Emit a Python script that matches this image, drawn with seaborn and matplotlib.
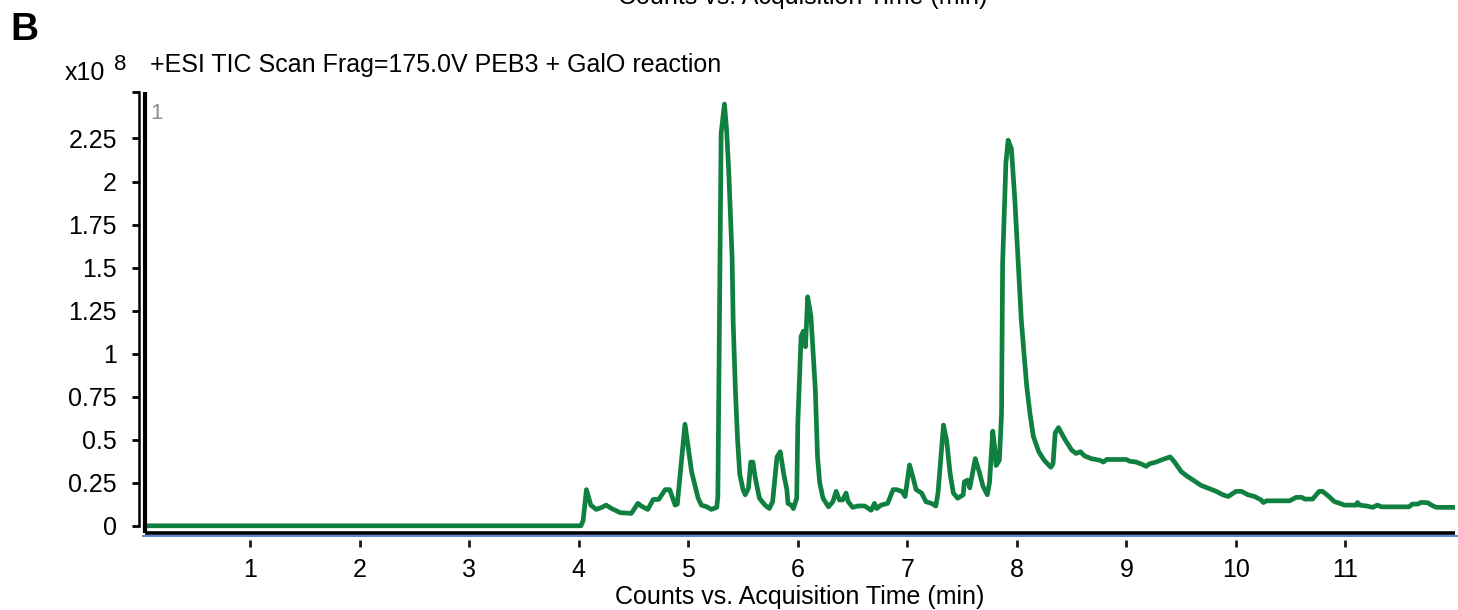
import matplotlib
matplotlib.use("Agg")
import matplotlib.pyplot as plt
import matplotlib.transforms as mtransforms
import seaborn as sns

sns.set_theme(style="white")
plt.rcParams["font.family"] = ["Liberation Sans", "DejaVu Sans"]
plt.rcParams["text.color"] = "black"
plt.rcParams["axes.labelcolor"] = "black"

# TIC trace (time in min, counts in units of 1e8)
time_min = [
    0.04, 4.02, 4.04, 4.07, 4.11, 4.16, 4.21, 4.25, 4.30, 4.38, 4.48, 4.54, 4.57,
    4.63, 4.68, 4.73, 4.79, 4.83, 4.88, 4.90, 4.97, 5.03, 5.09, 5.12, 5.17, 5.21,
    5.26, 5.27, 5.30, 5.33, 5.35, 5.37, 5.40, 5.41, 5.43, 5.45, 5.47, 5.50, 5.52,
    5.55, 5.57, 5.59, 5.61, 5.63, 5.65, 5.70, 5.74, 5.77, 5.81, 5.84, 5.87, 5.90,
    5.91, 5.94, 5.96, 5.99, 6.00, 6.03, 6.05, 6.07, 6.09, 6.12, 6.16, 6.18, 6.20,
    6.23, 6.28, 6.32, 6.35, 6.38, 6.41, 6.44, 6.46, 6.50, 6.55, 6.61, 6.67, 6.70,
    6.72, 6.76, 6.82, 6.87, 6.90, 6.95, 6.98, 7.02, 7.05, 7.08, 7.13, 7.17, 7.22,
    7.26, 7.28, 7.33, 7.36, 7.39, 7.42, 7.46, 7.51, 7.52, 7.55, 7.57, 7.62, 7.66,
    7.69, 7.73, 7.75, 7.78, 7.80, 7.81, 7.84, 7.86, 7.87, 7.89, 7.90, 7.92, 7.95,
    7.98, 8.01, 8.04, 8.06, 8.09, 8.12, 8.15, 8.20, 8.25, 8.31, 8.33, 8.35, 8.38,
    8.44, 8.50, 8.54, 8.58, 8.62, 8.68, 8.76, 8.79, 8.82, 9.00, 9.03, 9.09, 9.15,
    9.18, 9.21, 9.27, 9.33, 9.40, 9.44, 9.50, 9.55, 9.61, 9.68, 9.76, 9.82, 9.88,
    9.93, 10.00, 10.05, 10.11, 10.17, 10.23, 10.25, 10.28, 10.49, 10.55, 10.60,
    10.63, 10.70, 10.76, 10.79, 10.84, 10.90, 10.95, 10.99, 11.10, 11.11, 11.13,
    11.19, 11.25, 11.29, 11.33, 11.58, 11.61, 11.66, 11.69, 11.75, 11.80, 11.83,
    12.00,
]
counts_e8 = [
    0.0, 0.0, 0.03, 0.21, 0.12, 0.095, 0.107, 0.12, 0.10, 0.076, 0.072, 0.13, 0.115,
    0.095, 0.153, 0.153, 0.21, 0.21, 0.12, 0.126, 0.59, 0.314, 0.16, 0.12, 0.11, 0.095,
    0.107, 0.17, 2.28, 2.45, 2.30, 2.05, 1.56, 1.18, 0.79, 0.50, 0.30, 0.21, 0.18,
    0.22, 0.37, 0.37, 0.285, 0.22, 0.16, 0.12, 0.10, 0.14, 0.40, 0.43, 0.305, 0.21,
    0.13, 0.12, 0.10, 0.16, 0.595, 1.10, 1.13, 1.04, 1.33, 1.215, 0.79, 0.40, 0.25,
    0.16, 0.11, 0.14, 0.20, 0.15, 0.15, 0.19, 0.14, 0.107, 0.115, 0.115, 0.09, 0.13,
    0.10, 0.12, 0.13, 0.21, 0.21, 0.20, 0.17, 0.353, 0.285, 0.21, 0.19, 0.14, 0.13,
    0.115, 0.19, 0.585, 0.49, 0.305, 0.19, 0.16, 0.18, 0.255, 0.265, 0.22, 0.39, 0.305,
    0.23, 0.18, 0.25, 0.55, 0.44, 0.35, 0.38, 0.65, 1.53, 1.91, 2.11, 2.24, 2.19,
    1.91, 1.56, 1.20, 1.04, 0.81, 0.65, 0.52, 0.43, 0.38, 0.34, 0.36, 0.54, 0.57,
    0.50, 0.44, 0.42, 0.43, 0.405, 0.39, 0.38, 0.37, 0.385, 0.385, 0.375, 0.37, 0.355,
    0.345, 0.36, 0.37, 0.385, 0.40, 0.37, 0.315, 0.29, 0.265, 0.235, 0.215, 0.20, 0.18,
    0.17, 0.20, 0.20, 0.18, 0.17, 0.15, 0.135, 0.145, 0.145, 0.165, 0.165,
    0.155, 0.155, 0.20, 0.20, 0.175, 0.14, 0.13, 0.12, 0.12, 0.135, 0.12,
    0.115, 0.107, 0.12, 0.11, 0.11, 0.126, 0.126, 0.136, 0.134, 0.115, 0.107,
    0.107,
]

x_ticks = [1, 2, 3, 4, 5, 6, 7, 8, 9, 10, 11]
y_ticks = [0, 0.25, 0.5, 0.75, 1, 1.25, 1.5, 1.75, 2, 2.25]
y_tick_labels = ["0", "0.25", "0.5", "0.75", "1", "1.25", "1.5", "1.75", "2", "2.25"]

title = "+ESI TIC Scan Frag=175.0V PEB3 + GalO reaction"
x_label = "Counts vs. Acquisition Time (min)"

W, H = 1458, 610
fig = plt.figure(figsize=(W / 100, H / 100), dpi=100)
ax = fig.add_axes([145 / W, (H - 533) / H, 1310 / W, (533 - 92) / H])

sns.lineplot(x=time_min, y=counts_e8, ax=ax, color="#0f8040", lw=3.4,
             estimator=None, sort=False)

x_lo, x_hi = 0.04, 12.0
y_lo, y_hi = -0.042, 2.52
ax.set_xlim(x_lo, x_hi)
ax.set_ylim(y_lo, y_hi)

# axes styling: outer left spine with ticks, inner vertical rule, bottom rules
for side in ["top", "right"]:
    ax.spines[side].set_visible(False)
ax.spines["left"].set_position(("outward", 4.3))
ax.spines["left"].set_linewidth(1.8)
ax.spines["left"].set_color("black")
ax.spines["left"].set_bounds(0, y_hi)
ax.spines["bottom"].set_position(("outward", 5))
ax.spines["bottom"].set_visible(False)

ax.set_yticks(y_ticks + [y_hi])
ax.set_yticklabels(y_tick_labels + [""])
ax.set_xticks(x_ticks)
ax.set_xticklabels([str(t) for t in x_ticks])
ax.tick_params(axis="y", direction="out", length=4.8, width=2, color="black",
               pad=11, labelsize=18, labelcolor="black", left=True)
ax.tick_params(axis="x", direction="out", length=5, width=2, color="#1a1a1a",
               pad=8, labelsize=18, labelcolor="black", bottom=True)

ax.plot([0, 0], [0, 1], transform=ax.transAxes, color="black", lw=3,
        clip_on=False, solid_capstyle="butt")
ax.plot([0, 1], [0, 0], transform=ax.transAxes, color="black", lw=2.6,
        clip_on=False, solid_capstyle="butt")
blue_tr = mtransforms.offset_copy(ax.transAxes, fig=fig, y=-2.7, units="dots")
ax.plot([-0.002, 1.003], [0, 0], transform=blue_tr, color="#3d6fcc", lw=1.2,
        clip_on=False, solid_capstyle="butt")

ax.set_xlabel(x_label, fontsize=18, labelpad=2, color="black")
ax.set_ylabel("")
ax.text(0.004, 0.975, "1", transform=ax.transAxes, fontsize=16, color="#8f8f8f",
        ha="left", va="top")

# text around the panel
fig.text(150 / W, 1 - 72 / H, title, fontsize=18, ha="left", va="baseline")
fig.text(65 / W, 1 - 80 / H, "x10", fontsize=18, ha="left", va="baseline")
fig.text(114 / W, 1 - 70 / H, "8", fontsize=16, ha="left", va="baseline")
fig.text(10 / W, 1 - 40 / H, "B", fontsize=28, fontweight="bold", ha="left",
         va="baseline", color="black")
fig.text(803 / W, 1 - 4 / H, x_label, fontsize=18, ha="center", va="baseline")

fig.savefig("out.png", dpi=100)
